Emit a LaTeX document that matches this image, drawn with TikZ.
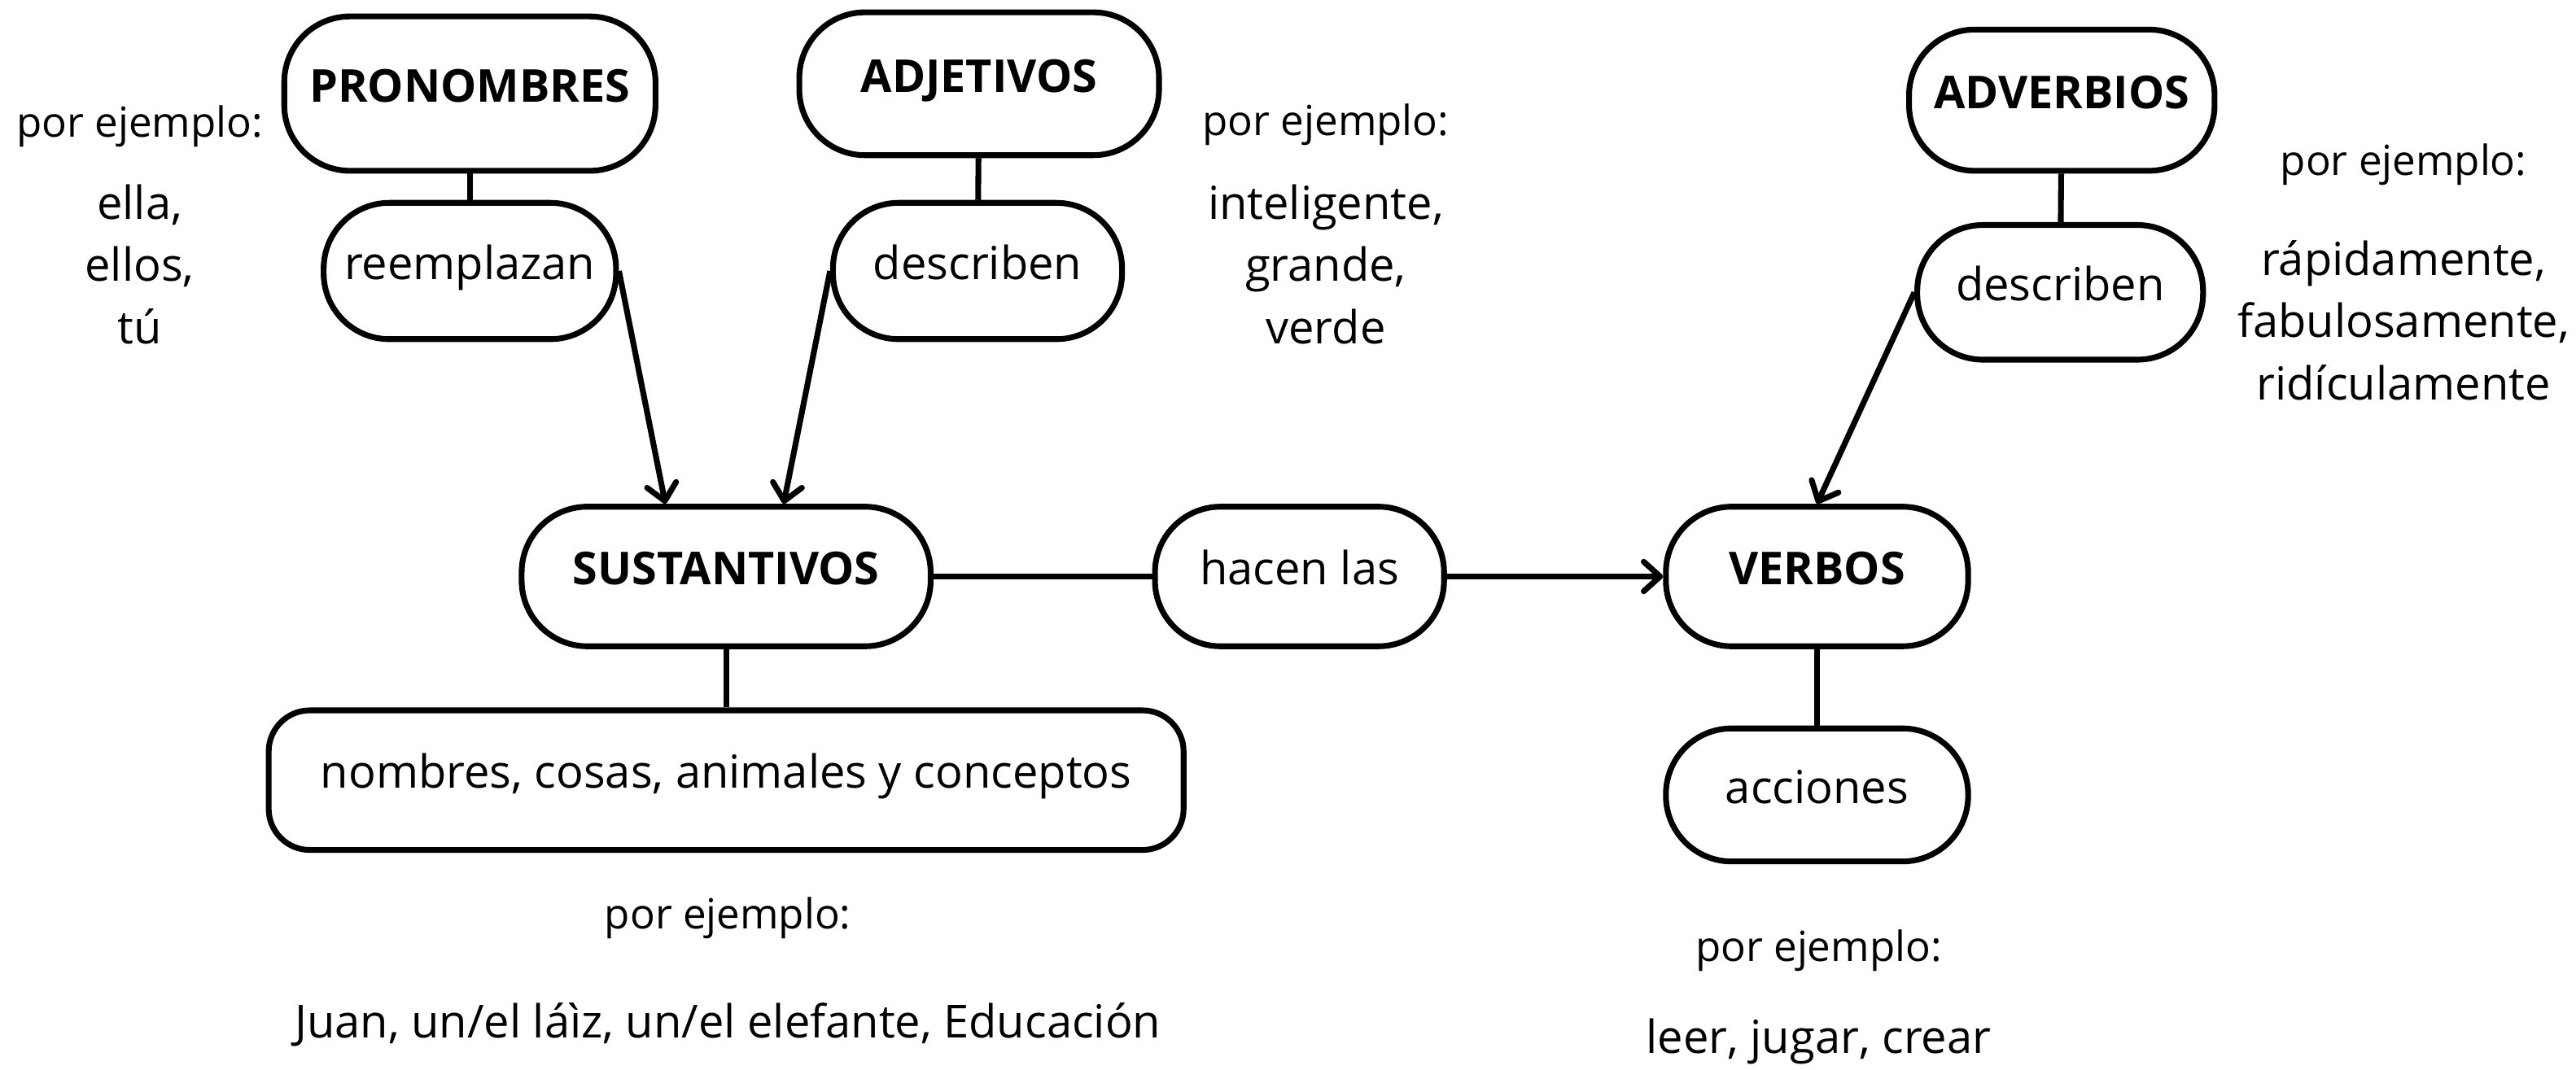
\documentclass[tikz,border=0pt]{standalone}
\usepackage{fontspec}
\setmainfont{Open Sans}
\usetikzlibrary{arrows.meta}
\begin{document}
\begin{tikzpicture}[x=0.02cm,y=-0.02cm,
  box/.style={draw, line width=2pt, rounded corners=0.8cm, inner sep=0pt,
    text height=0.4cm, text depth=0.2cm,
    font=\fontsize{15.8}{18}\selectfont},
  headbox/.style={box, font=\fontsize{15.7}{18}\selectfont\bfseries},
  conn/.style={line width=2pt},
  arr/.style={line width=2pt, -{Straight Barb[length=0.2cm,width=0.36cm,round]}},
  pe/.style={font=\fontsize{14.4}{17}\selectfont, inner sep=0pt},
  lst/.style={font=\fontsize{15.8}{21.6}\selectfont, align=center, inner sep=0pt}]
\useasboundingbox (0,0) rectangle (1568,651);
% nodes
\node[headbox, minimum width=4.52cm, minimum height=1.88cm] (pro) at (286,57) {PRONOMBRES};
\node[box, minimum width=3.56cm, minimum height=1.66cm] (ree) at (286,165) {reemplazan};
\node[headbox, minimum width=4.38cm, minimum height=1.74cm] (adj) at (596,51) {ADJETIVOS};
\node[box, minimum width=3.52cm, minimum height=1.66cm] (des1) at (595,165) {describen};
\node[headbox, minimum width=4.98cm, minimum height=1.70cm] (sus) at (442,351) {SUSTANTIVOS};
\node[box, minimum width=3.52cm, minimum height=1.70cm] (hac) at (791,351) {hacen las};
\node[headbox, minimum width=3.68cm, minimum height=1.70cm] (ver) at (1106,351) {VERBOS};
\node[box, minimum width=3.68cm, minimum height=1.62cm] (acc) at (1106,484) {acciones};
\node[headbox, minimum width=3.72cm, minimum height=1.72cm] (adv) at (1255,61) {ADVERBIOS};
\node[box, minimum width=3.48cm, minimum height=1.64cm] (des2) at (1254,178) {describen};
\node[box, rounded corners=0.5cm, minimum width=11.14cm, minimum height=1.70cm] (nom) at (442,475) {nombres, cosas, animales y conceptos};
% example texts
\node[pe] (pe1) at (85,77) {por ejemplo:};
\node[lst] (ex1) at (85,161) {ella,\\ellos,\\tú};
\node[pe] (pe2) at (807,76) {por ejemplo:};
\node[lst] (ex2) at (807,161) {inteligente,\\grande,\\verde};
\node[pe] (pe3) at (1463,100) {por ejemplo:};
\node[lst] (ex3) at (1463,195) {rápidamente,\\fabulosamente,\\ridículamente};
\node[pe] (pe4) at (443,559) {por ejemplo:};
\node[lst] (ex4) at (443,624) {Juan, un/el láìz, un/el elefante, Educación};
\node[pe] (pe5) at (1107,579) {por ejemplo:};
\node[lst] (ex5) at (1107,634) {leer, jugar, crear};
% connectors
\draw[conn] (pro) -- (ree);
\draw[conn] (adj) -- (des1);
\draw[conn] (adv) -- (des2);
\draw[conn] (sus) -- (nom);
\draw[conn] (ver) -- (acc);
\draw[conn] (sus) -- (hac);
\draw[arr] (hac) -- (ver);
\draw[arr] (ree.east) -- ([xshift=-0.74cm]sus.north);
\draw[arr] (des1.west) -- ([xshift=0.7cm]sus.north);
\draw[arr] (des2.west) -- (ver.north);
\end{tikzpicture}
\end{document}
